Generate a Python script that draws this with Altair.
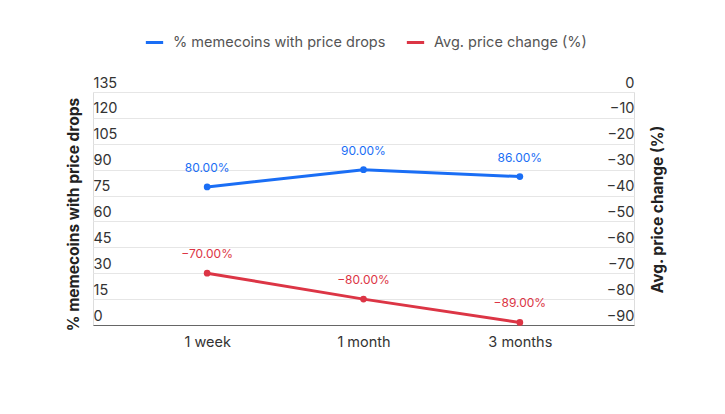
import altair as alt
import pandas as pd

periods = ["1 week", "1 month", "3 months"]
pct_drops = [80, 90, 86]
avg_change = [-70, -80, -89]
series_names = ["% memecoins with price drops", "Avg. price change (%)"]
colors = ["#1a6ef5", "#dc3545"]

rows = []
for p, v in zip(periods, pct_drops):
    rows.append({"period": p, "series": series_names[0], "value": v})
for p, v in zip(periods, avg_change):
    rows.append({"period": p, "series": series_names[1], "value": v})
df = pd.DataFrame(rows)

FONT = "Inter"
color = alt.Color(
    "series:N",
    scale=alt.Scale(domain=series_names, range=colors),
    legend=alt.Legend(
        title=None, orient="none", legendX=51, legendY=-60, direction="horizontal",
        symbolType="stroke", symbolStrokeWidth=3, symbolSize=300, labelLimit=400,
        labelFontSize=14.5, labelColor="#555555", labelFont=FONT, columnPadding=14,
        labelOffset=8,
    ),
)
xenc = alt.X(
    "period:N", sort=periods,
    scale=alt.Scale(padding=0.73),
    axis=alt.Axis(title=None, grid=False, ticks=False, domainColor="#666666",
                  labelAngle=0, labelFontSize=14.5, labelColor="#333333",
                  labelFont=FONT, labelPadding=10),
)

base = alt.Chart(df).encode(x=xenc, color=color)

yl = alt.Y("value:Q", scale=alt.Scale(domain=[0, 135], nice=False),
           axis=alt.Axis(title="% memecoins with price drops", values=list(range(0, 136, 15)),
                         orient="left", domain=False, ticks=False, labelAlign="left",
                         labelBaseline="alphabetic", labelOffset=-5, labelPadding=0,
                         labelFontSize=14.5, labelColor="#333333", labelFont=FONT,
                         grid=True, gridColor="#e6e6e6", titleFontSize=15.5, titleFontWeight="bold",
                         titleColor="#222222", titleFont=FONT, titleX=-20, titleY=122,
                         titleBaseline="middle"))
left = base.transform_filter(alt.datum.series == series_names[0]).encode(y=yl)
left_line = left.mark_line(strokeWidth=3)
left_pt = left.mark_point(filled=True, size=45, opacity=1)
left_txt = left.transform_calculate(lbl="format(datum.value, '.2f') + '%'").mark_text(
    dy=-19, fontSize=12, font=FONT).encode(text="lbl:N")
left_layer = alt.layer(left_line, left_pt, left_txt)

yr = alt.Y("value:Q", scale=alt.Scale(domain=[-90, 0], nice=False),
           axis=alt.Axis(title="Avg. price change (%)", values=list(range(-90, 1, 10)),
                         orient="right", domain=False, ticks=False, grid=False, labelAlign="right",
                         labelBaseline="alphabetic", labelOffset=-5, labelPadding=0,
                         labelFontSize=14.5, labelColor="#333333", labelFont=FONT,
                         titleFontSize=15.5, titleFontWeight="bold", titleAngle=270,
                         titleColor="#222222", titleFont=FONT, titleX=23, titleY=117,
                         titleBaseline="middle"))
right = base.transform_filter(alt.datum.series == series_names[1]).encode(y=yr)
right_line = right.mark_line(strokeWidth=3)
right_pt = right.mark_point(filled=True, size=45, opacity=1)
right_txt = right.transform_calculate(lbl="format(datum.value, '.2f') + '%'").mark_text(
    dy=-19, fontSize=12, font=FONT).encode(text="lbl:N")
right_layer = alt.layer(right_line, right_pt, right_txt)

chart = alt.layer(left_layer, right_layer).resolve_scale(y="independent").properties(
    width=541, height=233,
    autosize=alt.AutoSizeParams(type="none"),
    padding={"left": 85, "top": 84, "right": 80, "bottom": 80},
).configure_view(strokeWidth=0).configure(background="white")

chart.save("out.html", embed_options={"renderer": "svg", "actions": False})
